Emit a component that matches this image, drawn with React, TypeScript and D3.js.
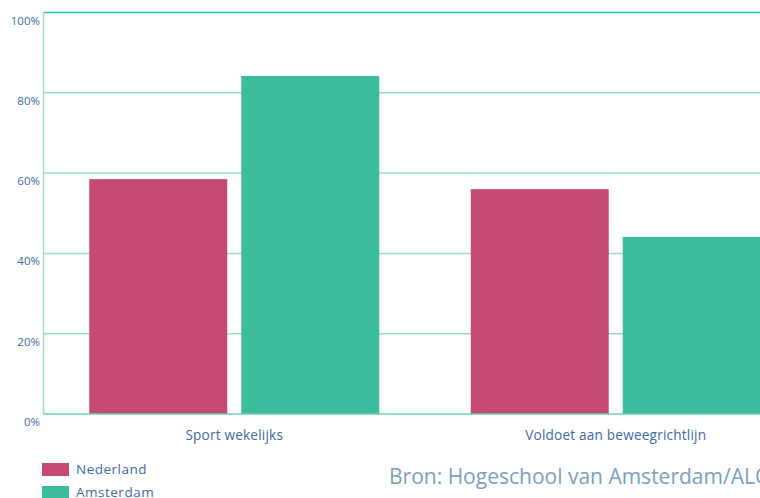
import React from "react";
import * as d3 from "d3";

const categories = ["Sport wekelijks", "Voldoet aan beweegrichtlijn"];
const seriesNames = ["Nederland", "Amsterdam"];
const nederland = [58.5, 56];
const amsterdam = [84.2, 44.1];
const yTicks = [0, 20, 40, 60, 80, 100];
const source = "Bron: Hogeschool van Amsterdam/ALO";

const W = 760;
const H = 498;
const colors = ["#c64a72", "#3bbd9d"];
const textColor = "#3d6aa8";
const font = "'Open Sans', sans-serif";

export default function App() {
  const left = 43.5;
  const top = 12.5;
  const bottom = 414;
  const bandW = 381.5;
  const x0 = d3
    .scaleBand<string>()
    .domain(categories)
    .range([left, left + bandW * categories.length])
    .paddingInner(0)
    .paddingOuter(0);
  const x1 = d3
    .scaleBand<string>()
    .domain(seriesNames)
    .range([45.75, bandW - 45.75])
    .paddingInner(14 / 152)
    .paddingOuter(0);
  const y = d3.scaleLinear().domain([0, 100]).range([bottom, top]);
  const values = [nederland, amsterdam];

  return (
    <svg
      width={W}
      height={H}
      style={{ position: "absolute", left: 0, top: 0, display: "block" }}
      fontFamily={font}
    >
      <rect width={W} height={H} fill="#fff" />
      {yTicks.map((t) => (
        <g key={t}>
          {t > 0 && (
            <line
              x1={left}
              x2={W}
              y1={y(t)}
              y2={y(t)}
              stroke={t === 100 ? "#2bbf9c" : "#9adccb"}
              strokeWidth={1.5}
            />
          )}
          <text
            x={40}
            y={y(t) + 9}
            textAnchor="end"
            dominantBaseline="middle"
            fontSize={11.5}
            fill={textColor}
          >
            {t}%
          </text>
        </g>
      ))}
      <line x1={left} x2={left} y1={top} y2={bottom} stroke="#9adccb" strokeWidth={1.5} />
      {categories.map((c, i) =>
        seriesNames.map((s, j) => (
          <rect
            key={c + s}
            x={(x0(c) as number) + (x1(s) as number)}
            y={y(values[j][i])}
            width={x1.bandwidth()}
            height={bottom - y(values[j][i])}
            fill={colors[j]}
          />
        ))
      )}
      <line x1={left} x2={W} y1={bottom} y2={bottom} stroke="#6fcfb5" strokeWidth={1.5} />
      {categories.map((c) => (
        <text
          key={c}
          x={(x0(c) as number) + bandW / 2}
          y={440}
          textAnchor="middle"
          fontSize={13.6}
          letterSpacing={0.2}
          fill={textColor}
        >
          {c}
        </text>
      ))}
      {seriesNames.map((s, j) => (
        <g key={s} transform={`translate(42,${463 + j * 23})`}>
          <rect width={27} height={13} fill={colors[j]} />
          <text x={34} y={11} fontSize={13.5} letterSpacing={0.5} fill={textColor}>
            {s}
          </text>
        </g>
      ))}
      <text x={389} y={484} fontSize={21} letterSpacing={0} fill="#7aa0c2">
        {source}
      </text>
    </svg>
  );
}
